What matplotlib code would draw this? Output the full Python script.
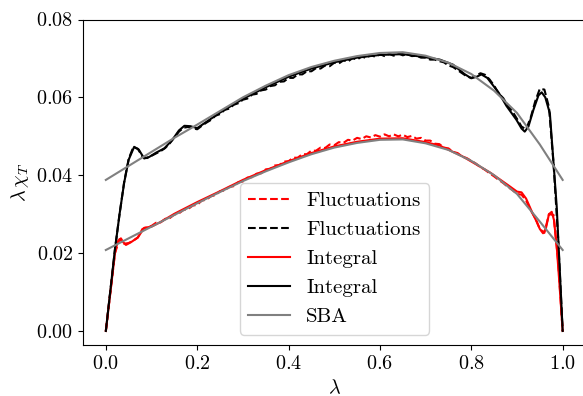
import numpy as np
import matplotlib
matplotlib.use('Agg')
import matplotlib.pyplot as plt

plt.rcParams['font.family'] = 'serif'
plt.rcParams['font.serif'] = ['cmr10']
plt.rcParams['mathtext.fontset'] = 'cm'
plt.rcParams['axes.formatter.use_mathtext'] = True
plt.rcParams['axes.unicode_minus'] = False

# SBA curves (gray)
sba_x = [0.00, 0.05, 0.10, 0.15, 0.20, 0.25, 0.30, 0.35, 0.40, 0.45, 0.50,
         0.55, 0.60, 0.65, 0.70, 0.75, 0.80, 0.85, 0.90, 0.95, 1.00]
sba_upper = [0.0388, 0.0424, 0.0460, 0.0496, 0.0530, 0.0565, 0.0600, 0.0630,
             0.0657, 0.0678, 0.0694, 0.0706, 0.0714, 0.0716, 0.0707, 0.0689,
             0.0660, 0.0617, 0.0560, 0.0479, 0.0388]
sba_lower = [0.0208, 0.0238, 0.0268, 0.0298, 0.0328, 0.0357, 0.0385, 0.0410,
             0.0433, 0.0454, 0.0471, 0.0483, 0.0491, 0.0492, 0.0482, 0.0465,
             0.0437, 0.0400, 0.0352, 0.0281, 0.0208]

# Integral, black
int_k_x = [0.000, 0.010, 0.020, 0.030, 0.040, 0.050, 0.062, 0.072, 0.084, 0.095,
           0.110, 0.128, 0.145, 0.160, 0.172, 0.185, 0.200, 0.215, 0.250, 0.300,
           0.350, 0.400, 0.450, 0.500, 0.550, 0.600, 0.650, 0.700, 0.731, 0.760,
           0.785, 0.800, 0.812, 0.822, 0.835, 0.860, 0.877, 0.899, 0.910, 0.917,
           0.925, 0.936, 0.947, 0.954, 0.962, 0.972, 0.979, 0.987, 0.994, 1.000]
int_k_y = [0.0000, 0.0105, 0.0210, 0.0300, 0.0380, 0.0440, 0.0473, 0.0466, 0.0443, 0.0447,
           0.0458, 0.0469, 0.0490, 0.0515, 0.0527, 0.0526, 0.0521, 0.0533, 0.0561, 0.0596,
           0.0626, 0.0653, 0.0674, 0.0690, 0.0702, 0.0709, 0.0711, 0.0703, 0.0697, 0.0684,
           0.0660, 0.0649, 0.0653, 0.0659, 0.0650, 0.0612, 0.0578, 0.0542, 0.0520, 0.0512,
           0.0525, 0.0568, 0.0605, 0.0613, 0.0600, 0.0559, 0.0448, 0.0319, 0.0149, 0.0000]

# Integral, red
int_r_x = [0.000, 0.010, 0.020, 0.026, 0.033, 0.038, 0.044, 0.055, 0.070, 0.084,
           0.100, 0.120, 0.150, 0.200, 0.250, 0.300, 0.350, 0.400, 0.450, 0.500,
           0.550, 0.600, 0.650, 0.700, 0.731, 0.780, 0.841, 0.880, 0.900, 0.910,
           0.920, 0.935, 0.943, 0.950, 0.957, 0.963, 0.970, 0.976, 0.981, 0.987,
           0.993, 1.000]
int_r_y = [0.0000, 0.0100, 0.0200, 0.0230, 0.0238, 0.0228, 0.0221, 0.0228, 0.0240, 0.0265,
           0.0268, 0.0280, 0.0301, 0.0331, 0.0359, 0.0388, 0.0413, 0.0436, 0.0457, 0.0474,
           0.0486, 0.0494, 0.0495, 0.0485, 0.0476, 0.0449, 0.0407, 0.0375, 0.0358, 0.0356,
           0.0340, 0.0300, 0.0281, 0.0262, 0.0251, 0.0262, 0.0300, 0.0306, 0.0285, 0.0217,
           0.0120, 0.0000]

# Fluctuations (dashed), sampled every 0.01
fl_x = np.round(np.arange(0, 101) * 0.01, 2)
fl_k = [0.0000, 0.0105, 0.0210, 0.0300, 0.0382, 0.0442, 0.0472, 0.0468, 0.0448, 0.0444,
        0.0450, 0.0456, 0.0462, 0.0470, 0.0482, 0.0497, 0.0512, 0.0522, 0.0524, 0.0521,
        0.0518, 0.0527, 0.0535, 0.0542, 0.0553, 0.0557, 0.0568, 0.0571, 0.0581, 0.0585,
        0.0594, 0.0597, 0.0607, 0.0609, 0.0618, 0.0620, 0.0629, 0.0631, 0.0640, 0.0641,
        0.0650, 0.0650, 0.0659, 0.0659, 0.0667, 0.0667, 0.0675, 0.0674, 0.0682, 0.0680,
        0.0689, 0.0687, 0.0695, 0.0692, 0.0701, 0.0697, 0.0705, 0.0701, 0.0709, 0.0704,
        0.0711, 0.0706, 0.0712, 0.0707, 0.0713, 0.0708, 0.0711, 0.0706, 0.0707, 0.0702,
        0.0702, 0.0697, 0.0697, 0.0693, 0.0690, 0.0682, 0.0678, 0.0670, 0.0662, 0.0654,
        0.0650, 0.0655, 0.0662, 0.0658, 0.0646, 0.0630, 0.0610, 0.0598, 0.0578, 0.0564,
        0.0545, 0.0525, 0.0518, 0.0548, 0.0590, 0.0622, 0.0620, 0.0575, 0.0430, 0.0240,
        0.0000]
fl_r = [0.0000, 0.0100, 0.0200, 0.0236, 0.0224, 0.0226, 0.0232, 0.0240, 0.0262, 0.0266,
        0.0270, 0.0278, 0.0279, 0.0288, 0.0290, 0.0299, 0.0302, 0.0311, 0.0313, 0.0322,
        0.0324, 0.0335, 0.0337, 0.0346, 0.0349, 0.0359, 0.0361, 0.0370, 0.0372, 0.0382,
        0.0384, 0.0394, 0.0395, 0.0404, 0.0405, 0.0415, 0.0416, 0.0425, 0.0426, 0.0435,
        0.0436, 0.0445, 0.0445, 0.0454, 0.0454, 0.0463, 0.0463, 0.0471, 0.0470, 0.0479,
        0.0477, 0.0485, 0.0483, 0.0491, 0.0489, 0.0496, 0.0493, 0.0500, 0.0497, 0.0503,
        0.0499, 0.0505, 0.0500, 0.0505, 0.0500, 0.0504, 0.0498, 0.0501, 0.0494, 0.0496,
        0.0489, 0.0489, 0.0481, 0.0480, 0.0471, 0.0469, 0.0460, 0.0457, 0.0448, 0.0444,
        0.0437, 0.0430, 0.0421, 0.0414, 0.0405, 0.0397, 0.0388, 0.0380, 0.0370, 0.0362,
        0.0352, 0.0350, 0.0335, 0.0310, 0.0290, 0.0262, 0.0252, 0.0300, 0.0298, 0.0180,
        0.0000]

fs = 14.5
fig = plt.figure(figsize=(5.83, 3.96), dpi=100)
ax = fig.add_axes([83 / 583, 51 / 396, 502.5 / 583, 325.5 / 396])

ax.plot(fl_x, fl_r, color='red', ls='--', lw=1.5, label='Fluctuations')
ax.plot(fl_x, fl_k, color='black', ls='--', lw=1.5, label='Fluctuations')
ax.plot(int_r_x, int_r_y, color='red', lw=1.5, label='Integral')
ax.plot(int_k_x, int_k_y, color='black', lw=1.5, label='Integral')
ax.plot(sba_x, sba_upper, color='gray', lw=1.5, label='SBA')
ax.plot(sba_x, sba_lower, color='gray', lw=1.5)

ax.set_xlim(-0.05, 1.05)
ax.set_ylim(-0.0036, 0.08)
ax.set_xticks([0.0, 0.2, 0.4, 0.6, 0.8, 1.0])
ax.set_yticks([0.00, 0.02, 0.04, 0.06, 0.08])
ax.tick_params(labelsize=fs)
ax.set_xlabel(r'$\lambda$', fontsize=fs)
ax.set_ylabel(r'$\lambda\,\chi_T$', fontsize=fs)
ax.legend(loc='lower center', fontsize=15)

fig.savefig('out.png', dpi=100)
